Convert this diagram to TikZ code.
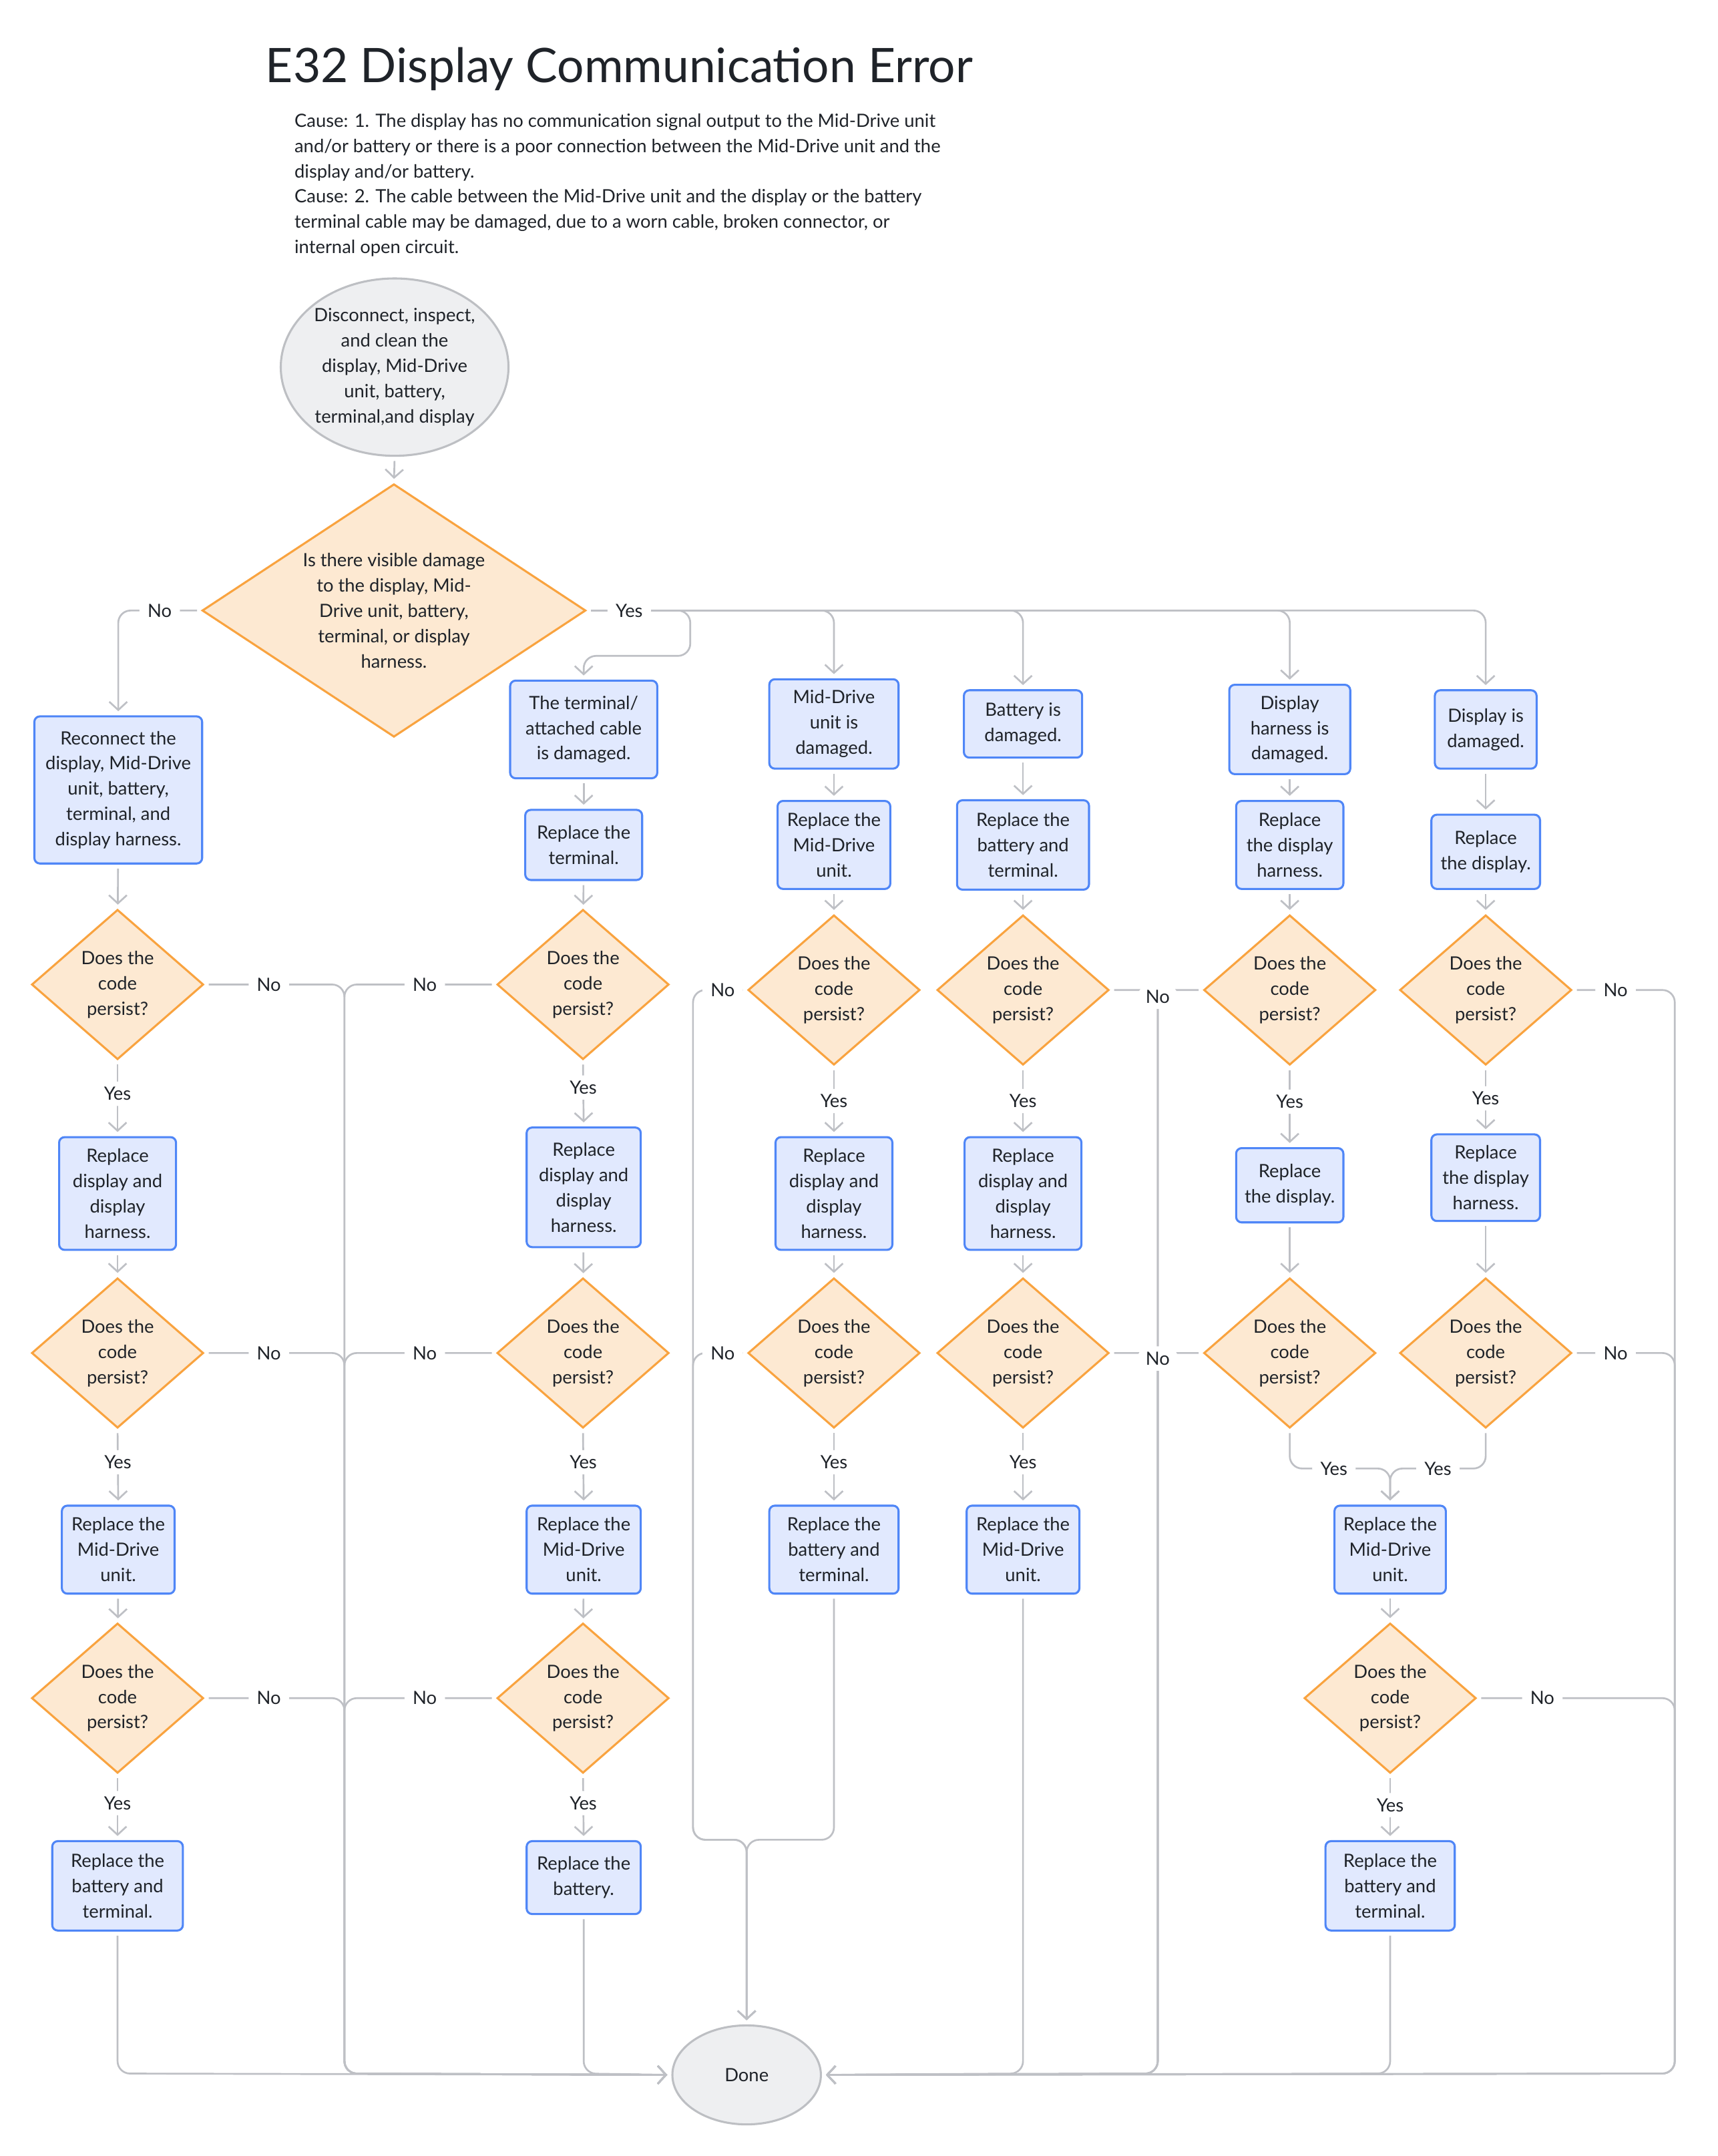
\documentclass[tikz,border=0pt]{standalone}
\usepackage{fontspec}
\setmainfont{Lato}
\usetikzlibrary{shapes.geometric,arrows.meta}
\definecolor{edgec}{RGB}{190,192,197}
\definecolor{boxb}{RGB}{79,134,247}
\definecolor{boxf}{RGB}{225,233,254}
\definecolor{decb}{RGB}{249,163,63}
\definecolor{decf}{RGB}{253,233,210}
\definecolor{termb}{RGB}{189,191,195}
\definecolor{termf}{RGB}{238,239,241}
\definecolor{textc}{RGB}{31,35,41}
\tikzset{
  body/.style={font=\fontsize{13.3}{18.4}\selectfont, text=textc},
  box/.style={body, draw=boxb, fill=boxf, line width=1.5pt, rounded corners=4pt, align=center, inner sep=0pt},
  dec/.style={body, diamond, aspect=1.15, draw=decb, fill=decf, line width=1.5pt, align=center, inner sep=0pt, minimum width=125pt, minimum height=109pt},
  term/.style={body, draw=termb, fill=termf, line width=1.5pt, align=center, inner sep=0pt},
  conn/.style={draw=edgec, line width=1.3pt, rounded corners=9pt, shorten <=3pt, shorten >=3pt, -{Straight Barb[length=6pt,width=13pt,line width=1.3pt]}},
  lbl/.style={body, fill=white, inner xsep=6pt, inner ysep=4pt},
  yes/.style={lbl, pos=0.44},
}
\begin{document}
\begin{tikzpicture}[x=1pt,y=-1pt]
\fill[white] (0,0) rectangle (1249,1568);
\useasboundingbox (0,0) rectangle (1249,1568);

% title and causes
\node[anchor=base west, inner sep=0pt, text=textc, font=\fontsize{34.6}{40}\selectfont] (title) at (193,59.8) {E32 Display Communication Error};
\node[body, anchor=north west, align=left, inner sep=0pt] (cause) at (214,82.4) {Cause: 1. The display has no communication signal output to the Mid-Drive unit\\and/or battery or there is a poor connection between the Mid-Drive unit and the\\display and/or battery.\\Cause: 2. The cable between the Mid-Drive unit and the display or the battery\\terminal cable may be damaged, due to a worn cable, broken connector, or\\internal open circuit.};

% start and main decision
\node[term, ellipse, minimum width=164pt, minimum height=129pt] (start) at (287,267) {Disconnect, inspect,\\and clean the\\display, Mid-Drive\\unit, battery,\\terminal,and display};
\node[dec, aspect=1.6, minimum width=279pt, minimum height=184pt] (q0) at (286.5,444) {Is there visible damage\\to the display, Mid-\\Drive unit, battery,\\terminal, or display\\harness.};

% column A
\node[box, minimum width=122pt, minimum height=107pt] (a0) at (86,574.5) {Reconnect the\\display, Mid-Drive\\unit, battery,\\terminal, and\\display harness.};
\node[dec] (aq1) at (85.5,716) {Does the\\code\\persist?};
\node[box, minimum width=85pt, minimum height=82pt] (ay1) at (85.5,868) {Replace\\display and\\display\\harness.};
\node[dec] (aq2) at (85.5,984) {Does the\\code\\persist?};
\node[box, minimum width=82pt, minimum height=64pt] (ay2) at (86,1127) {Replace the\\Mid-Drive\\unit.};
\node[dec] (aq3) at (85.5,1235) {Does the\\code\\persist?};
\node[box, minimum width=95pt, minimum height=65pt] (ay3) at (85.5,1371.5) {Replace the\\battery and\\terminal.};

% column B
\node[box, minimum width=107pt, minimum height=71pt] (b0) at (424.5,530.5) {The terminal/\\attached cable\\is damaged.};
\node[box, minimum width=85pt, minimum height=51pt] (b1) at (424.5,614.5) {Replace the\\terminal.};
\node[dec] (bq1) at (424,716) {Does the\\code\\persist?};
\node[box, minimum width=83pt, minimum height=87pt] (by1) at (424.5,863.5) {Replace\\display and\\display\\harness.};
\node[dec] (bq2) at (424,984) {Does the\\code\\persist?};
\node[box, minimum width=83pt, minimum height=64pt] (by2) at (424.5,1127) {Replace the\\Mid-Drive\\unit.};
\node[dec] (bq3) at (424,1235) {Does the\\code\\persist?};
\node[box, minimum width=83pt, minimum height=53pt] (by3) at (424.5,1365.5) {Replace the\\battery.};

% column C
\node[box, minimum width=94pt, minimum height=65pt] (c0) at (606.5,526.5) {Mid-Drive\\unit is\\damaged.};
\node[box, minimum width=82pt, minimum height=64pt] (c1) at (606.5,614.5) {Replace the\\Mid-Drive\\unit.};
\node[dec] (cq1) at (606.5,720) {Does the\\code\\persist?};
\node[box, minimum width=85pt, minimum height=82pt] (cy1) at (606.5,868) {Replace\\display and\\display\\harness.};
\node[dec] (cq2) at (606.5,984) {Does the\\code\\persist?};
\node[box, minimum width=94pt, minimum height=64pt] (cy2) at (606.5,1127) {Replace the\\battery and\\terminal.};

% column D
\node[box, minimum width=86pt, minimum height=49pt] (d0) at (744,526.5) {Battery is\\damaged.};
\node[box, minimum width=96pt, minimum height=65pt] (d1) at (744,614.5) {Replace the\\battery and\\terminal.};
\node[dec] (dq1) at (744,720) {Does the\\code\\persist?};
\node[box, minimum width=85pt, minimum height=82pt] (dy1) at (744,868) {Replace\\display and\\display\\harness.};
\node[dec] (dq2) at (744,984) {Does the\\code\\persist?};
\node[box, minimum width=82pt, minimum height=64pt] (dy2) at (744,1127) {Replace the\\Mid-Drive\\unit.};

% column E
\node[box, minimum width=88pt, minimum height=65pt] (e0) at (938,530.5) {Display\\harness is\\damaged.};
\node[box, minimum width=78pt, minimum height=64pt] (e1) at (938,614.5) {Replace\\the display\\harness.};
\node[dec] (eq1) at (938,720) {Does the\\code\\persist?};
\node[box, minimum width=78pt, minimum height=54pt] (ey1) at (938,862) {Replace\\the display.};
\node[dec] (eq2) at (938,984) {Does the\\code\\persist?};

% column F
\node[box, minimum width=74pt, minimum height=57pt] (f0) at (1080.5,530.5) {Display is\\damaged.};
\node[box, minimum width=79pt, minimum height=54pt] (f1) at (1080.5,619.5) {Replace\\the display.};
\node[dec] (fq1) at (1080.5,720) {Does the\\code\\persist?};
\node[box, minimum width=79pt, minimum height=63pt] (fy1) at (1080.5,856.5) {Replace\\the display\\harness.};
\node[dec] (fq2) at (1080.5,984) {Does the\\code\\persist?};

% column G
\node[box, minimum width=81pt, minimum height=64pt] (g1) at (1011,1127) {Replace the\\Mid-Drive\\unit.};
\node[dec] (gq3) at (1011,1235) {Does the\\code\\persist?};
\node[box, minimum width=94pt, minimum height=65pt] (g2) at (1011,1371.5) {Replace the\\battery and\\terminal.};

% done
\node[term, ellipse, minimum width=108pt, minimum height=72pt] (done) at (543,1509) {Done};

% routing coordinates
\coordinate (vL) at (250.5,0);
\coordinate (vC) at (504,0);
\coordinate (vD) at (842,0);
\coordinate (vR) at (1218,0);
\coordinate (hB) at (0,1508);
\coordinate (hC) at (0,1338);
\coordinate (gj) at (1011,1068);
\coordinate (bj) at (502,477);

% start
\draw[conn] (start.south) -- (q0.north);
\draw[conn] (q0.west) -- node[lbl]{No} (q0.west -| a0.north) -- (a0.north);
\draw[conn] (q0.east) -- (q0.east -| f0.north) -- (f0.north);
\draw[conn] (q0.east) -- (q0.east -| e0.north) -- (e0.north);
\draw[conn] (q0.east) -- (q0.east -| d0.north) -- (d0.north);
\draw[conn] (q0.east) -- (q0.east -| c0.north) -- (c0.north);
\draw[conn] (q0.east) -- node[lbl, pos=0.41]{Yes} (q0.east -| bj) -- (bj) -- (bj -| b0.north) -- (b0.north);

% vertical chains
\draw[conn] (a0) -- (aq1);
\draw[conn] (aq1.south) -- node[yes]{Yes} (ay1.north);
\draw[conn] (ay1) -- (aq2);
\draw[conn] (aq2.south) -- node[yes]{Yes} (ay2.north);
\draw[conn] (ay2) -- (aq3);
\draw[conn] (aq3.south) -- node[yes]{Yes} (ay3.north);

\draw[conn] (b0) -- (b1);
\draw[conn] (b1) -- (bq1);
\draw[conn] (bq1.south) -- node[lbl,pos=0.41]{Yes} (by1.north);
\draw[conn] (by1) -- (bq2);
\draw[conn] (bq2.south) -- node[yes]{Yes} (by2.north);
\draw[conn] (by2) -- (bq3);
\draw[conn] (bq3.south) -- node[yes]{Yes} (by3.north);

\draw[conn] (c0) -- (c1);
\draw[conn] (c1) -- (cq1);
\draw[conn] (cq1.south) -- node[lbl]{Yes} (cy1.north);
\draw[conn] (cy1) -- (cq2);
\draw[conn] (cq2.south) -- node[yes]{Yes} (cy2.north);

\draw[conn] (d0) -- (d1);
\draw[conn] (d1) -- (dq1);
\draw[conn] (dq1.south) -- node[lbl]{Yes} (dy1.north);
\draw[conn] (dy1) -- (dq2);
\draw[conn] (dq2.south) -- node[yes]{Yes} (dy2.north);

\draw[conn] (e0) -- (e1);
\draw[conn] (e1) -- (eq1);
\draw[conn] (eq1.south) -- node[yes]{Yes} (ey1.north);
\draw[conn] (ey1) -- (eq2);

\draw[conn] (f0) -- (f1);
\draw[conn] (f1) -- (fq1);
\draw[conn] (fq1.south) -- node[lbl,pos=0.48]{Yes} (fy1.north);
\draw[conn] (fy1) -- (fq2);

\draw[conn] (eq2.south) -- (eq2.south |- gj) -- node[lbl,pos=0.44]{Yes} (gj) -- (g1.north);
\draw[conn] (fq2.south) -- (fq2.south |- gj) -- node[lbl,pos=0.5]{Yes} (gj) -- (g1.north);
\draw[conn] (g1) -- (gq3);
\draw[conn] (gq3.south) -- node[lbl,pos=0.47]{Yes} (g2.north);

% box exits to Done
\draw[conn] (ay3.south) -- (ay3.south |- hB) -- (done.west);
\draw[conn] (by3.south) -- (by3.south |- hB) -- (done.west);
\draw[conn] (cy2.south) -- (cy2.south |- hC) -- (hC -| done.north) -- (done.north);
\draw[conn] (dy2.south) -- (dy2.south |- hB) -- (done.east);
\draw[conn] (g2.south) -- (g2.south |- hB) -- (done.east);

% No branches, row 1
\draw[conn] (aq1.east) -- node[lbl,pos=0.46]{No} (aq1.east -| vL) -- (vL |- hB) -- (done.west);
\draw[conn] (bq1.west) -- node[lbl,pos=0.47]{No} (bq1.west -| vL) -- (vL |- hB) -- (done.west);
\draw[conn] (cq1.west) -- node[lbl,pos=0.45]{No} (cq1.west -| vC) -- (vC |- hC) -- (hC -| done.north) -- (done.north);
\draw[conn] (dq1.east) -- (dq1.east -| vD) -- (vD |- hB) -- (done.east);
\draw[conn] (eq1.west) -- (eq1.west -| vD) node[lbl, yshift=-5pt]{No} -- (vD |- hB) -- (done.east);
\draw[conn] (fq1.east) -- node[lbl,pos=0.42]{No} (fq1.east -| vR) -- (vR |- hB) -- (done.east);

% No branches, row 2
\draw[conn] (aq2.east) -- node[lbl,pos=0.46]{No} (aq2.east -| vL) -- (vL |- hB) -- (done.west);
\draw[conn] (bq2.west) -- node[lbl,pos=0.47]{No} (bq2.west -| vL) -- (vL |- hB) -- (done.west);
\draw[conn] (cq2.west) -- node[lbl,pos=0.45]{No} (cq2.west -| vC) -- (vC |- hC) -- (hC -| done.north) -- (done.north);
\draw[conn] (dq2.east) -- (dq2.east -| vD) -- (vD |- hB) -- (done.east);
\draw[conn] (eq2.west) -- (eq2.west -| vD) node[lbl, yshift=-4pt]{No} -- (vD |- hB) -- (done.east);
\draw[conn] (fq2.east) -- node[lbl,pos=0.42]{No} (fq2.east -| vR) -- (vR |- hB) -- (done.east);

% No branches, row 3
\draw[conn] (aq3.east) -- node[lbl,pos=0.46]{No} (aq3.east -| vL) -- (vL |- hB) -- (done.west);
\draw[conn] (bq3.west) -- node[lbl,pos=0.47]{No} (bq3.west -| vL) -- (vL |- hB) -- (done.west);
\draw[conn] (gq3.east) -- node[lbl,pos=0.33]{No} (gq3.east -| vR) -- (vR |- hB) -- (done.east);
\end{tikzpicture}
\end{document}
